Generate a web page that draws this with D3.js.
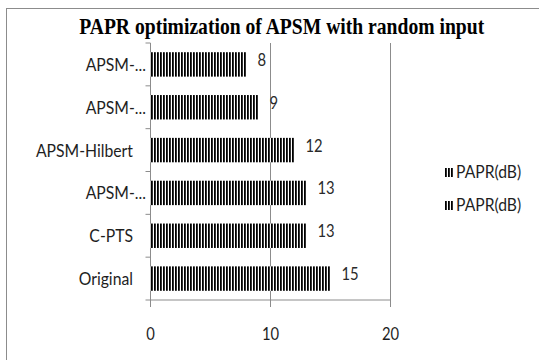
<!DOCTYPE html>
<html>
<head>
<meta charset="utf-8">
<script src="https://cdn.jsdelivr.net/npm/d3@7"></script>
<style>
  body { margin: 0; background: #fff; }
  svg { display: block; }
</style>
</head>
<body>
<svg id="chart" width="539" height="360"></svg>
<script>
// ---- data ----
const chartTitle = "PAPR optimization of APSM with random input";
const categories = ["APSM-...", "APSM-...", "APSM-Hilbert", "APSM-...", "C-PTS", "Original"];
const paprValues = [8, 9, 12, 13, 13, 15];
const xTicks = [0, 10, 20];
const legendLabels = ["PAPR(dB)", "PAPR(dB)"];

// ---- layout ----
const svg = d3.select("#chart");
const plot = { left: 150.5, right: 390.5, top: 43, bottom: 300 };
const axisColor = "#8c8c8c";
const textColor = "#1e1e1e";
const sansFont = "Lato, 'Open Sans', sans-serif";

const x = d3.scaleLinear().domain([0, 20]).range([plot.left, plot.right]);
const y = d3.scaleBand()
  .domain(d3.range(categories.length))
  .range([plot.top, plot.bottom])
  .paddingInner(0.43)
  .paddingOuter(0.215);

// narrow the glyphs horizontally, keeping their height
function squeeze(sel, sx) {
  sel.each(function () {
    const len = this.getComputedTextLength();
    d3.select(this).attr("textLength", len * sx).attr("lengthAdjust", "spacingAndGlyphs");
  });
}

// outer frame
svg.append("rect")
  .attr("x", 6.5).attr("y", 8.5)
  .attr("width", 600).attr("height", 400)
  .attr("fill", "none").attr("stroke", axisColor);

// vertical hatch used for bars and legend keys
const defs = svg.append("defs");
const pat = defs.append("pattern")
  .attr("id", "vstripes")
  .attr("patternUnits", "userSpaceOnUse")
  .attr("width", 3).attr("height", 10);
pat.append("rect").attr("width", 3).attr("height", 10).attr("fill", "#fff");
pat.append("rect").attr("x", 1).attr("width", 1.8).attr("height", 10).attr("fill", "#000");

// title
const titleText = svg.append("text")
  .attr("x", 281.7).attr("y", 33.5)
  .attr("text-anchor", "middle")
  .attr("font-family", "'Liberation Serif', 'Times New Roman', serif")
  .attr("font-weight", "bold")
  .attr("font-size", 22.5)
  .attr("fill", "#000")
  .text(chartTitle);
titleText.attr("textLength", 405).attr("lengthAdjust", "spacingAndGlyphs");

// vertical gridlines (the one at 0 is the value axis), with tick stubs below
svg.append("g").selectAll("line")
  .data(xTicks)
  .join("line")
  .attr("x1", d => x(d)).attr("x2", d => x(d))
  .attr("y1", plot.top).attr("y2", plot.bottom + 7)
  .attr("stroke", axisColor);

// category axis ticks at band boundaries
svg.append("g").selectAll("line")
  .data(d3.range(categories.length + 1))
  .join("line")
  .attr("x1", plot.left - 5).attr("x2", plot.left)
  .attr("y1", i => plot.top + i * y.step())
  .attr("y2", i => plot.top + i * y.step())
  .attr("stroke", axisColor);

// horizontal axis line
svg.append("line")
  .attr("x1", plot.left).attr("x2", plot.right)
  .attr("y1", plot.bottom).attr("y2", plot.bottom)
  .attr("stroke", axisColor);

// bars
svg.append("g").selectAll("rect")
  .data(paprValues)
  .join("rect")
  .attr("x", x(0))
  .attr("y", (d, i) => y(i))
  .attr("width", d => x(d) - x(0))
  .attr("height", y.bandwidth())
  .attr("fill", "url(#vstripes)");

// value labels
const valueLabels = svg.append("g").selectAll("text")
  .data(paprValues)
  .join("text")
  .attr("x", d => x(d) + 11)
  .attr("y", (d, i) => y(i) + y.bandwidth() / 2 + 1.5)
  .attr("font-family", sansFont)
  .attr("font-size", 17.2)
  .attr("fill", "#2a2a2a")
  .text(d => d);
squeeze(valueLabels, 0.86);

// category labels
const catLabels = svg.append("g").selectAll("text")
  .data(categories)
  .join("text")
  .attr("x", d => d.endsWith("...") ? 146 : 133)
  .attr("y", (d, i) => y(i) + y.bandwidth() / 2 + 6.5)
  .attr("text-anchor", "end")
  .attr("font-family", sansFont)
  .attr("font-size", 17.5)
  .attr("fill", textColor)
  .text(d => d);
squeeze(catLabels, 0.9);

// x tick labels
const tickLabels = svg.append("g").selectAll("text")
  .data(xTicks)
  .join("text")
  .attr("x", d => x(d))
  .attr("y", 340)
  .attr("text-anchor", "middle")
  .attr("font-family", sansFont)
  .attr("font-size", 17.2)
  .attr("fill", textColor)
  .text(d => d);
squeeze(tickLabels, 0.86);

// legend
const legend = svg.append("g").selectAll("g")
  .data(legendLabels)
  .join("g")
  .attr("transform", (d, i) => `translate(444, ${172 + i * 33})`);
legend.append("rect")
  .attr("x", 0).attr("y", -4)
  .attr("width", 9).attr("height", 9)
  .attr("fill", "url(#vstripes)");
const legendText = legend.append("text")
  .attr("x", 12).attr("y", 6)
  .attr("font-family", sansFont)
  .attr("font-size", 16.5)
  .attr("fill", textColor)
  .text(d => d);
squeeze(legendText, 0.95);
</script>
</body>
</html>
